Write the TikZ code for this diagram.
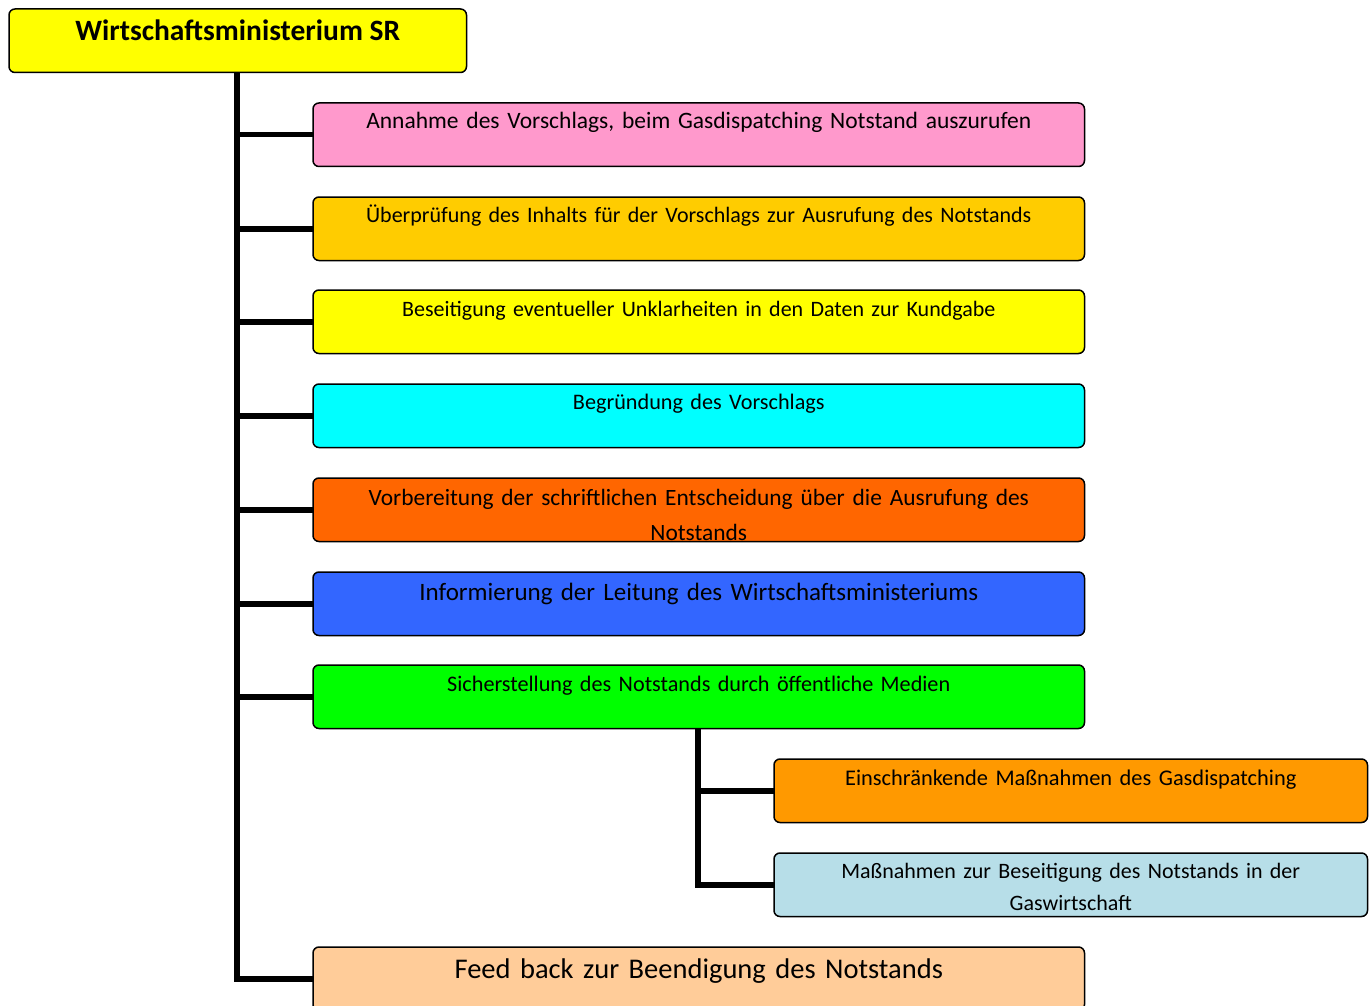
\documentclass[tikz,border=0pt]{standalone}
\usepackage{fontspec}
\setmainfont{Carlito}
\begin{document}
\begin{tikzpicture}[x=1pt,y=-1pt,
  box/.style={draw=black, line width=1.5pt, rounded corners=6pt, minimum width=770pt, minimum height=62pt, inner sep=0pt, anchor=north west},
  subbox/.style={box, minimum width=592pt},
  txt/.style={anchor=base, text width=760pt, align=center, inner sep=0pt, font=\fontsize{22}{33}\selectfont},
  conn/.style={line width=5.5pt, line cap=rect}]
\useasboundingbox (0,0) rectangle (1371,1006);
\definecolor{cpink}{HTML}{FF99CC}
\definecolor{cgold}{HTML}{FFCC00}
\definecolor{cyel}{HTML}{FFFF00}
\definecolor{ccyan}{HTML}{00FFFF}
\definecolor{corange}{HTML}{FF6600}
\definecolor{cblue}{HTML}{3366FF}
\definecolor{cgreen}{HTML}{00FF00}
\definecolor{camber}{HTML}{FF9900}
\definecolor{clblue}{HTML}{B7DEE8}
\definecolor{cpeach}{HTML}{FFCC99}

\coordinate (tx) at (237,0);
\coordinate (sx) at (698,0);

\node[box, fill=cyel, minimum width=456pt] (top) at (9,9) {};
\node[box, fill=cpink] (b1) at (313,103) {};
\node[box, fill=cgold] (b2) at (313,197) {};
\node[box, fill=cyel] (b3) at (313,290) {};
\node[box, fill=ccyan] (b4) at (313,384) {};
\node[box, fill=corange] (b5) at (313,478) {};
\node[box, fill=cblue] (b6) at (313,572) {};
\node[box, fill=cgreen] (b7) at (313,665) {};
\node[subbox, fill=camber] (s1) at (774,759) {};
\node[subbox, fill=clblue] (s2) at (774,853) {};
\node[box, fill=cpeach] (b8) at (313,947) {};

\draw[conn] (tx|-top.south) -- (tx|-b8.west) -- (b8.west);
\foreach \n in {b1,b2,b3,b4,b5,b6,b7} {
  \draw[conn] (tx|-\n.west) -- (\n.west);
}
\draw[conn] (sx|-b7.south) -- (sx|-s2.west) -- (s2.west);
\draw[conn] (sx|-s1.west) -- (s1.west);

% redraw boxes on top of connectors
\foreach \n/\c in {top/cyel,b1/cpink,b2/cgold,b3/cyel,b4/ccyan,b5/corange,b6/cblue,b7/cgreen,s1/camber,s2/clblue,b8/cpeach} {
  \draw[line width=1.5pt, rounded corners=6pt, fill=\c] (\n.north west) rectangle (\n.south east);
}

\node[anchor=base, inner sep=0pt, font=\fontsize{29.5}{32}\selectfont\bfseries] (ttop) at ([yshift=-32pt]top.north) {Wirtschaftsministerium SR};
\node[txt, font=\fontsize{23.5}{33}\selectfont] (t1) at ([yshift=-26pt]b1.north) {Annahme des Vorschlags, beim Gasdispatching Notstand auszurufen};
\node[txt] (t2) at ([yshift=-25pt]b2.north) {Überprüfung des Inhalts für der Vorschlags zur Ausrufung des Notstands};
\node[txt] (t3) at ([yshift=-26pt]b3.north) {Beseitigung eventueller Unklarheiten in den Daten zur Kundgabe};
\node[txt, font=\fontsize{22.2}{33}\selectfont] (t4) at ([yshift=-25pt]b4.north) {Begründung des Vorschlags};
\begin{scope}
  \clip (b5.north west) rectangle ([yshift=1pt]b5.south east);
  \node[txt, font=\fontsize{23.4}{35}\selectfont] (t5) at ([yshift=-27pt]b5.north) {Vorbereitung der schriftlichen Entscheidung über die Ausrufung des\\Notstands};
\end{scope}
\node[txt, font=\fontsize{25}{30}\selectfont] (t6) at ([yshift=-28pt]b6.north) {Informierung der Leitung des Wirtschaftsministeriums};
\node[txt, font=\fontsize{22.2}{33}\selectfont] (t7) at ([yshift=-26pt]b7.north) {Sicherstellung des Notstands durch öffentliche Medien};
\node[txt, text width=580pt, font=\fontsize{22.4}{33}\selectfont] (ts1) at ([yshift=-26pt]s1.north) {Einschränkende Maßnahmen des Gasdispatching};
\node[txt, text width=580pt, font=\fontsize{22}{32}\selectfont] (ts2) at ([yshift=-25pt]s2.north) {Maßnahmen zur Beseitigung des Notstands in der\\Gaswirtschaft};
\node[txt, font=\fontsize{28.5}{32}\selectfont] (t8) at ([yshift=-31pt]b8.north) {Feed back zur Beendigung des Notstands};
\end{tikzpicture}
\end{document}
